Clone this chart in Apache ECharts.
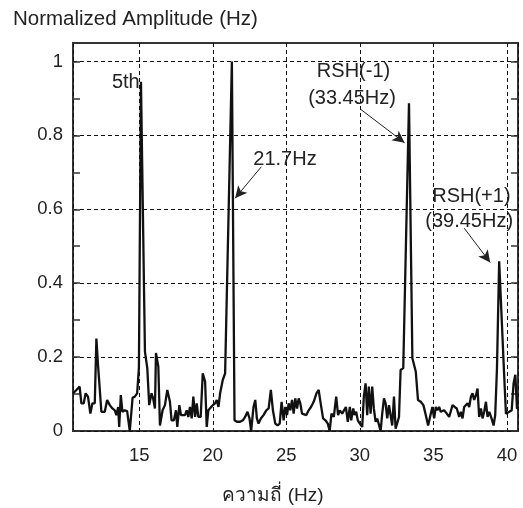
<!DOCTYPE html>
<html>
<head>
<meta charset="utf-8">
<script src="https://cdn.jsdelivr.net/npm/echarts@6/dist/echarts.min.js"></script>
<style>
  html, body { margin: 0; padding: 0; background: #fff; }
  #chart { width: 523px; height: 508px; }
</style>
</head>
<body>
<div id="chart"></div>
<script>
// spectrum: frequency (Hz) / normalized amplitude
const freqs = [
  10.50, 10.61, 10.73, 10.84, 10.95, 11.07, 11.23, 11.36, 11.52, 11.68, 11.82, 11.98, 12.09, 12.20, 12.43, 12.66,
  12.82, 13.00, 13.18, 13.34, 13.45, 13.57, 13.64, 13.75, 13.86, 14.02, 14.18, 14.36, 14.55, 14.70, 14.86, 14.98,
  15.12, 15.39, 15.55, 15.68, 15.84, 15.95, 16.07, 16.14, 16.30, 16.41, 16.59, 16.75, 16.91, 17.09, 17.20, 17.36,
  17.50, 17.59, 17.73, 17.84, 17.95, 18.11, 18.23, 18.34, 18.45, 18.57, 18.68, 18.80, 18.91, 19.02, 19.18, 19.32,
  19.48, 19.59, 19.70, 19.82, 20.00, 20.16, 20.27, 20.39, 20.50, 20.68, 20.84, 20.95, 21.30, 21.48, 21.64, 21.86,
  22.05, 22.20, 22.36, 22.50, 22.61, 22.77, 22.89, 23.00, 23.11, 23.27, 23.45, 23.64, 23.80, 23.95, 24.09, 24.25,
  24.41, 24.55, 24.68, 24.82, 24.93, 25.05, 25.16, 25.27, 25.39, 25.50, 25.61, 25.73, 25.84, 25.95, 26.07, 26.18,
  26.36, 26.52, 26.68, 26.86, 27.05, 27.20, 27.32, 27.50, 27.66, 27.82, 27.95, 28.07, 28.23, 28.39, 28.52, 28.64,
  28.80, 28.91, 29.05, 29.18, 29.32, 29.41, 29.55, 29.64, 29.75, 29.86, 30.00, 30.16, 30.27, 30.39, 30.50, 30.61,
  30.73, 30.84, 30.95, 31.07, 31.18, 31.30, 31.41, 31.52, 31.64, 31.75, 31.86, 31.98, 32.09, 32.20, 32.32, 32.43,
  32.66, 32.77, 32.95, 33.34, 33.57, 33.80, 33.95, 34.14, 34.32, 34.48, 34.64, 34.77, 34.93, 35.05, 35.16, 35.27,
  35.39, 35.50, 35.61, 35.73, 35.91, 36.07, 36.18, 36.30, 36.45, 36.59, 36.75, 36.86, 36.98, 37.09, 37.20, 37.32,
  37.43, 37.55, 37.66, 37.77, 37.89, 38.00, 38.11, 38.23, 38.34, 38.45, 38.57, 38.68, 38.80, 38.95, 39.09, 39.20,
  39.32, 39.47, 39.80, 39.93, 40.16, 40.32, 40.45, 40.57, 40.68, 40.80
];
const amps = [
  0.102, 0.097, 0.111, 0.106, 0.120, 0.075, 0.075, 0.102, 0.093, 0.047, 0.075, 0.075, 0.250, 0.179, 0.052, 0.052,
  0.084, 0.070, 0.061, 0.056, 0.043, 0.065, 0.011, 0.097, 0.052, 0.056, 0.054, 0.000, 0.090, 0.093, 0.102, 0.170,
  0.945, 0.215, 0.170, 0.070, 0.102, 0.088, 0.061, 0.211, 0.175, 0.015, 0.056, 0.070, 0.111, 0.079, 0.029, 0.029,
  0.056, 0.011, 0.070, 0.043, 0.047, 0.043, 0.056, 0.038, 0.065, 0.034, 0.093, 0.038, 0.075, 0.038, 0.038, 0.156,
  0.134, 0.011, 0.056, 0.061, 0.070, 0.075, 0.084, 0.065, 0.102, 0.138, 0.156, 0.161, 1.000, 0.029, 0.025, 0.025,
  0.029, 0.038, 0.052, 0.034, 0.000, 0.065, 0.084, 0.034, 0.020, 0.034, 0.043, 0.056, 0.061, 0.111, 0.056, 0.020,
  0.015, 0.020, 0.079, 0.029, 0.065, 0.043, 0.075, 0.056, 0.084, 0.047, 0.088, 0.061, 0.088, 0.075, 0.047, 0.052,
  0.043, 0.056, 0.065, 0.079, 0.102, 0.111, 0.079, 0.034, 0.029, 0.020, 0.000, 0.047, 0.038, 0.093, 0.043, 0.056,
  0.047, 0.052, 0.065, 0.025, 0.065, 0.029, 0.061, 0.043, 0.052, 0.029, 0.020, 0.011, 0.093, 0.129, 0.043, 0.120,
  0.047, 0.120, 0.061, 0.025, 0.034, 0.034, 0.000, 0.047, 0.088, 0.075, 0.034, 0.070, 0.065, 0.015, 0.093, 0.006,
  0.038, 0.165, 0.170, 0.887, 0.197, 0.161, 0.084, 0.079, 0.070, 0.043, 0.015, 0.038, 0.065, 0.034, 0.065, 0.056,
  0.065, 0.052, 0.047, 0.056, 0.047, 0.038, 0.043, 0.070, 0.065, 0.061, 0.038, 0.052, 0.034, 0.065, 0.070, 0.075,
  0.065, 0.093, 0.102, 0.084, 0.097, 0.115, 0.038, 0.061, 0.034, 0.052, 0.079, 0.038, 0.052, 0.034, 0.015, 0.043,
  0.170, 0.459, 0.160, 0.047, 0.052, 0.056, 0.129, 0.152, 0.061, 0.061
];

// annotation texts and where they sit (data coords)
const noteTexts = ["5th", "21.7Hz", "RSH(-1)", "(33.45Hz)", "RSH(+1)", "(39.45Hz)"];
const noteX = [14.09, 24.91, 29.57, 29.47, 37.58, 37.43];
const noteY = [0.942, 0.736, 0.972, 0.900, 0.635, 0.567];

// arrows: [fromX, fromY, toX, toY]
const arrows = [
  [23.30, 0.715, 21.52, 0.630],
  [30.04, 0.871, 33.04, 0.780],
  [37.09, 0.549, 38.86, 0.456],
];

const FONT = '"Liberation Sans", Arial, Helvetica, sans-serif';
const INK = "#222";

const chart = echarts.init(document.getElementById("chart"), null, { renderer: "canvas" });

const isMult = (v, step) => Math.abs(v / step - Math.round(v / step)) < 1e-6;

chart.setOption({
  animation: false,
  textStyle: { fontFamily: FONT },
  grid: {
    left: 73, right: 5, top: 43, bottom: 77,
    show: true, borderColor: "#333", borderWidth: 2,
  },
  graphic: [
    {
      type: "text", left: 13, top: 9,
      style: { text: "Normalized Amplitude (Hz)", font: "20.5px " + FONT, fill: INK },
    },
    {
      type: "text", x: 273, y: 496,
      style: { text: "ความถี่ (Hz)", font: "19px " + FONT, fill: INK, align: "center", verticalAlign: "middle" },
    },
  ],
  xAxis: {
    type: "value",
    min: 10.5,
    max: 40.75,
    axisLine: { show: false },
    axisTick: { show: false },
    axisLabel: {
      color: INK, fontSize: 18.5, margin: 15,
      formatter: (v) => (isMult(v, 5) ? String(Math.round(v)) : ""),
    },
    splitLine: { show: true, lineStyle: { color: "#111", width: 1, type: [4, 3] } },
  },
  yAxis: [
    {
      type: "value",
      min: 0,
      max: 1.05,
      interval: 0.1,
      axisLine: { show: false },
      axisTick: { show: true, inside: true, length: 7, lineStyle: { color: "#333", width: 1.5 } },
      axisLabel: {
        color: INK, fontSize: 18.5, margin: 10,
        formatter: (v) => (isMult(v, 0.2) && v <= 1.0001 ? String(+v.toFixed(1)) : ""),
      },
      splitLine: {
        show: true,
        lineStyle: { color: ["#111", "rgba(0,0,0,0)"], width: 1, type: [4, 3] },
      },
    },
    {
      type: "value",
      position: "right",
      min: 0,
      max: 1.05,
      interval: 0.1,
      axisLine: { show: false },
      axisTick: { show: true, inside: true, length: 7, lineStyle: { color: "#333", width: 1.5 } },
      axisLabel: { show: false },
      splitLine: { show: false },
    },
  ],
  series: [
    {
      type: "line",
      data: freqs.map((f, i) => [f, amps[i]]),
      showSymbol: false,
      lineStyle: { color: "#111", width: 2.3 },
      clip: true,
      markLine: {
        silent: true,
        symbol: ["none", "arrow"],
        symbolSize: [9, 12],
        label: { show: false },
        lineStyle: { color: INK, width: 1, type: "solid" },
        data: arrows.map((a) => [{ coord: [a[0], a[1]] }, { coord: [a[2], a[3]] }]),
      },
    },
    {
      type: "scatter",
      symbolSize: 0,
      silent: true,
      itemStyle: { opacity: 1, color: "#fff" },
      data: noteTexts.map((t, i) => ({ name: t, value: [noteX[i], noteY[i]] })),
      label: {
        show: true,
        position: "inside",
        formatter: (p) => p.name,
        color: INK,
        opacity: 1,
        textBorderWidth: 0,
        fontSize: 20,
        fontFamily: FONT,
      },
    },
  ],
});
</script>
</body>
</html>
